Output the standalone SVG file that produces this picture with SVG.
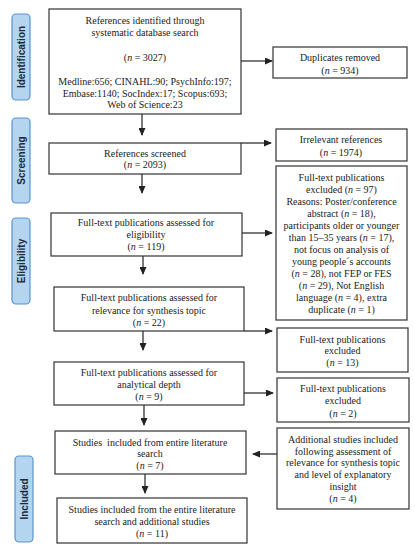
<svg xmlns="http://www.w3.org/2000/svg" width="415" height="550" viewBox="0 0 415 550">
<style>
.box{fill:#fff;stroke:#333;stroke-width:1.2}
.t{font-family:"Liberation Serif","Times New Roman",serif;font-size:10px;fill:#222;text-anchor:middle}
.i{font-style:italic}
.side{fill:#b4d5f0;stroke:#5a93cc;stroke-width:1.2}
.st{font-family:"Liberation Sans",Arial,sans-serif;font-size:10px;font-weight:bold;fill:#1e2a3a;text-anchor:middle}
.c{stroke:#222;stroke-width:1.2;fill:none;marker-end:url(#ah)}
</style>
<defs>
<marker id="ah" markerUnits="userSpaceOnUse" markerWidth="8" markerHeight="7" refX="7" refY="3.5" orient="auto">
<path d="M0,0 L8,3.5 L0,7 z" fill="#222"/>
</marker>
</defs>
<rect width="415" height="550" fill="#fff"/>

<g id="side-identification"><rect class="side" x="12" y="14" width="18" height="86" rx="4"/><text class="st" transform="translate(24.5,57) rotate(-90)">Identification</text></g>
<g id="side-screening"><rect class="side" x="12" y="118" width="18" height="85" rx="4"/><text class="st" transform="translate(24.5,160.5) rotate(-90)">Screening</text></g>
<g id="side-eligibility"><rect class="side" x="12" y="218" width="18" height="86" rx="4"/><text class="st" transform="translate(24.5,261) rotate(-90)">Eligibility</text></g>
<g id="side-included"><rect class="side" x="15" y="456" width="18" height="86" rx="4"/><text class="st" transform="translate(27.5,499) rotate(-90)">Included</text></g>

<g id="connectors">
<line class="c" x1="142" y1="114" x2="142" y2="135"/>
<line class="c" x1="142" y1="174" x2="142" y2="193"/>
<line class="c" x1="143" y1="256" x2="143" y2="274"/>
<line class="c" x1="143" y1="331" x2="143" y2="350"/>
<line class="c" x1="144" y1="405" x2="144" y2="425"/>
<line class="c" x1="145" y1="474" x2="145" y2="493"/>
<line class="c" x1="241" y1="61" x2="272" y2="61"/>
<line class="c" x1="241" y1="143" x2="271" y2="143"/>
<line class="c" x1="242" y1="233" x2="272" y2="233"/>
<line class="c" x1="244" y1="331" x2="272" y2="331"/>
<line class="c" x1="244" y1="393" x2="273" y2="393"/>
<line class="c" x1="277" y1="454" x2="253" y2="454"/>
</g>

<g id="n-identified"><rect class="box" x="49" y="9" width="192" height="105"/>
<text class="t" x="145" y="23.5">References identified through</text>
<text class="t" x="145" y="35.5">systematic database search</text>
<text class="t" x="145" y="60.5">(<tspan class="i">n</tspan> = 3027)</text>
<text class="t" x="145" y="84.5">Medline:656; CINAHL:90; PsychInfo:197;</text>
<text class="t" x="145" y="96.5">Embase:1140; SocIndex:17; Scopus:693;</text>
<text class="t" x="145" y="107.5">Web of Science:23</text></g>

<g id="n-duplicates"><rect class="box" x="273" y="47" width="134" height="31"/>
<text class="t" x="340" y="60.5">Duplicates removed</text>
<text class="t" x="340" y="73.5">(<tspan class="i">n</tspan> = 934)</text></g>

<g id="n-screened"><rect class="box" x="49" y="143" width="192" height="31"/>
<text class="t" x="145" y="156.5">References screened</text>
<text class="t" x="145" y="167.5">(<tspan class="i">n</tspan> = 2093)</text></g>

<g id="n-irrelevant"><rect class="box" x="276" y="129" width="131" height="32"/>
<text class="t" x="341" y="142.5">Irrelevant references</text>
<text class="t" x="341" y="155.5">(<tspan class="i">n</tspan> = 1974)</text></g>

<g id="n-eligibility"><rect class="box" x="51" y="213" width="191" height="43"/>
<text class="t" x="146" y="225.5">Full-text publications assessed for</text>
<text class="t" x="146" y="237.5">eligibility</text>
<text class="t" x="146" y="249.5">(<tspan class="i">n</tspan> = 119)</text></g>

<g id="n-excluded97"><rect class="box" x="276" y="166" width="131" height="154"/>
<text class="t" x="341.5" y="180.5">Full-text publications</text>
<text class="t" x="341.5" y="192.5">excluded (<tspan class="i">n</tspan> = 97)</text>
<text class="t" x="341.5" y="204.5">Reasons: Poster/conference</text>
<text class="t" x="341.5" y="216.5">abstract (<tspan class="i">n</tspan> = 18),</text>
<text class="t" x="341.5" y="228.5">participants older or younger</text>
<text class="t" x="341.5" y="240.5">than 15–35 years (<tspan class="i">n</tspan> = 17),</text>
<text class="t" x="341.5" y="252.5">not focus on analysis of</text>
<text class="t" x="341.5" y="264.5">young people´s accounts</text>
<text class="t" x="341.5" y="276.5">(<tspan class="i">n</tspan> = 28), not FEP or FES</text>
<text class="t" x="341.5" y="288.5">(<tspan class="i">n</tspan> = 29), Not English</text>
<text class="t" x="341.5" y="300.5">language (<tspan class="i">n</tspan> = 4), extra</text>
<text class="t" x="341.5" y="312.5">duplicate (<tspan class="i">n</tspan> = 1)</text></g>

<g id="n-relevance"><rect class="box" x="54" y="287" width="190" height="44"/>
<text class="t" x="149" y="300.5">Full-text publications assessed for</text>
<text class="t" x="149" y="313.5">relevance for synthesis topic</text>
<text class="t" x="149" y="325.5">(<tspan class="i">n</tspan> = 22)</text></g>

<g id="n-excluded13"><rect class="box" x="277" y="328" width="131" height="44"/>
<text class="t" x="342.5" y="342.5">Full-text publications</text>
<text class="t" x="342.5" y="353.5">excluded</text>
<text class="t" x="342.5" y="365.5">(<tspan class="i">n</tspan> = 13)</text></g>

<g id="n-analytical"><rect class="box" x="54" y="362" width="190" height="43"/>
<text class="t" x="149" y="375.5">Full-text publications assessed for</text>
<text class="t" x="149" y="387.5">analytical depth</text>
<text class="t" x="149" y="399.5">(<tspan class="i">n</tspan> = 9)</text></g>

<g id="n-excluded2"><rect class="box" x="277" y="378" width="132" height="44"/>
<text class="t" x="343" y="391.5">Full-text publications</text>
<text class="t" x="343" y="403.5">excluded</text>
<text class="t" x="343" y="416.5">(<tspan class="i">n</tspan> = 2)</text></g>

<g id="n-included"><rect class="box" x="55" y="431" width="191" height="43"/>
<text class="t" x="150" y="445.5" xml:space="preserve">Studies  included from entire literature</text>
<text class="t" x="150" y="456.5">search</text>
<text class="t" x="150" y="468.5">(<tspan class="i">n</tspan> = 7)</text></g>

<g id="n-additional"><rect class="box" x="277" y="428" width="132" height="81"/>
<text class="t" x="343" y="442.5">Additional studies included</text>
<text class="t" x="343" y="454.5">following assessment of</text>
<text class="t" x="343" y="465.5">relevance for synthesis topic</text>
<text class="t" x="343" y="477.5">and level of explanatory</text>
<text class="t" x="343" y="489.5">insight</text>
<text class="t" x="343" y="501.5">(<tspan class="i">n</tspan> = 4)</text></g>

<g id="n-final"><rect class="box" x="57" y="498" width="190" height="45"/>
<text class="t" x="152" y="512.5">Studies included from the entire literature</text>
<text class="t" x="152" y="524.5">search and additional studies</text>
<text class="t" x="152" y="536.5">(<tspan class="i">n</tspan> = 11)</text></g>
</svg>
